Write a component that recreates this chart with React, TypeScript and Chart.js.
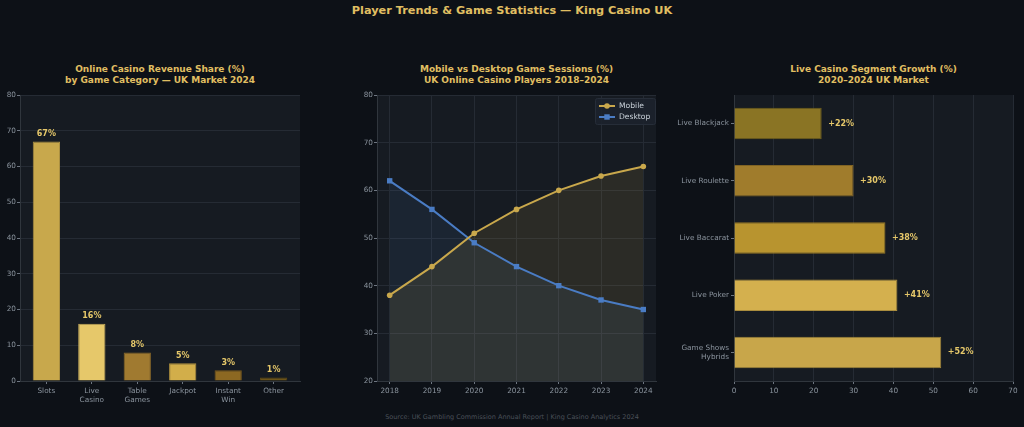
import React, { useEffect, useRef } from 'react';
import { Chart, registerables } from 'chart.js';
Chart.register(...registerables);

// ---------- data ----------
const shareCategories = [['Slots'], ['Live', 'Casino'], ['Table', 'Games'], ['Jackpot'], ['Instant', 'Win'], ['Other']];
const shareValues = [67, 16, 8, 5, 3, 1];
const shareColors = ['#c8a84c', '#e6c86a', '#a07a30', '#d2ae4a', '#8c6822', '#6c5418'];

const years = [2018, 2019, 2020, 2021, 2022, 2023, 2024];
const mobileSessions = [38, 44, 51, 56, 60, 63, 65];
const desktopSessions = [62, 56, 49, 44, 40, 37, 35];

const segments = [['Live Blackjack'], ['Live Roulette'], ['Live Baccarat'], ['Live Poker'], ['Game Shows', 'Hybrids']];
const segmentGrowth = [22, 30, 38, 41, 52];
const segmentColors = ['#8a7424', '#a07c2c', '#b8942f', '#d4b04e', '#c8a64a'];

// ---------- style ----------
const FIG_BG = '#0d1117';
const PLOT_BG = '#161b22';
const GRID = '#252b34';
const SPINE = '#30363d';
const TICK_TEXT = '#8b949e';
const GOLD_TEXT = '#e0bf62';
const LABEL_TEXT = '#e6c86a';
const FONT = "'DejaVu Sans', sans-serif";
const MOBILE = '#c9a84c';
const DESKTOP = '#4a7cc4';

Chart.defaults.font.family = FONT;

const plotBg = {
  id: 'plotBg',
  beforeDraw(chart: any) {
    const { ctx, chartArea: a } = chart;
    ctx.save();
    ctx.fillStyle = PLOT_BG;
    ctx.fillRect(a.left, a.top, a.right - a.left, a.bottom - a.top);
    ctx.restore();
  },
};

const tickFont = { family: FONT, size: 7.3 };

function darker(hex: string, f = 0.8) {
  const n = parseInt(hex.slice(1), 16);
  const r = Math.round(((n >> 16) & 255) * f);
  const g = Math.round(((n >> 8) & 255) * f);
  const b = Math.round((n & 255) * f);
  return `rgb(${r},${g},${b})`;
}

function noPad(s: any) {
  s.paddingTop = 0; s.paddingBottom = 0; s.paddingLeft = 0; s.paddingRight = 0;
}

function useChart(make: (c: HTMLCanvasElement) => Chart) {
  const ref = useRef<HTMLCanvasElement>(null);
  useEffect(() => {
    const ch = make(ref.current!);
    return () => ch.destroy();
  }, []);
  return ref;
}

function ShareChart() {
  const ref = useChart((canvas) =>
    new Chart(canvas, {
      type: 'bar',
      data: {
        datasets: [{
          data: shareValues.map((v, i) => ({ x: i, y: v })),
          backgroundColor: shareColors,
          borderColor: shareColors.map((c) => darker(c, 0.85)),
          borderWidth: 1,
          barPercentage: 0.6,
          categoryPercentage: 1,
        }],
      },
      options: {
        responsive: false,
        animation: false,
        layout: { padding: { left: 0, right: 20, top: 5, bottom: 0 } },
        plugins: { legend: { display: false }, tooltip: { enabled: false } },
        scales: {
          x: {
            type: 'linear',
            offset: false,
            min: -0.58, max: 5.58,
            afterBuildTicks: (s: any) => { s.ticks = shareCategories.map((_, i) => ({ value: i })); },
            grid: { display: true, offset: false, drawOnChartArea: false, drawTicks: true, tickLength: 3, tickColor: '#6e7681' },
            border: { color: SPINE },
            ticks: { color: TICK_TEXT, font: tickFont, padding: 2.5, maxRotation: 0, autoSkip: false,
              callback: (v: any) => shareCategories[Math.round(v)] },
            afterFit: (s: any) => { s.height = 29; noPad(s); },
          },
          y: {
            min: 0, max: 80,
            ticks: { stepSize: 10, color: TICK_TEXT, font: tickFont, padding: 1 },
            grid: { color: GRID, tickLength: 3, tickColor: '#6e7681' },
            border: { color: SPINE },
            afterFit: (s: any) => { s.width = 20; noPad(s); },
          },
        },
      },
      plugins: [plotBg, {
        id: 'vals',
        afterDatasetsDraw(chart: any) {
          const { ctx } = chart;
          const meta = chart.getDatasetMeta(0);
          ctx.save();
          ctx.font = `bold 8px ${FONT}`;
          ctx.fillStyle = LABEL_TEXT;
          ctx.textAlign = 'center';
          ctx.textBaseline = 'bottom';
          meta.data.forEach((el: any, i: number) => {
            ctx.fillText(`${shareValues[i]}%`, el.x, el.y - 3.5);
          });
          ctx.restore();
        },
      }],
    } as any)
  );
  return <canvas ref={ref} width={320} height={320} style={{ position: 'absolute', left: 0, top: 90, width: 320, height: 320 }} />;
}

function SessionsChart() {
  const ref = useChart((canvas) =>
    new Chart(canvas, {
      type: 'line',
      data: {
        datasets: [
          {
            label: 'Mobile',
            data: years.map((y, i) => ({ x: y, y: mobileSessions[i] })),
            borderColor: MOBILE,
            backgroundColor: 'rgba(201,168,76,0.12)',
            fill: 'start',
            borderWidth: 2,
            tension: 0,
            pointStyle: 'circle',
            pointRadius: 2.8,
            pointBackgroundColor: MOBILE,
            pointBorderColor: MOBILE,
            pointBorderWidth: 0,
          },
          {
            label: 'Desktop',
            data: years.map((y, i) => ({ x: y, y: desktopSessions[i] })),
            borderColor: DESKTOP,
            backgroundColor: 'rgba(74,124,196,0.10)',
            fill: 'start',
            borderWidth: 2,
            tension: 0,
            pointStyle: 'rect',
            pointRadius: 3.8,
            pointBackgroundColor: DESKTOP,
            pointBorderColor: DESKTOP,
            pointBorderWidth: 0,
          },
        ],
      },
      options: {
        responsive: false,
        animation: false,
        layout: { padding: { left: 0, right: 14, top: 5, bottom: 0 } },
        plugins: {
          legend: { display: false }, tooltip: { enabled: false },
          filler: { drawTime: 'beforeDatasetsDraw' },
        },
        scales: {
          x: {
            type: 'linear',
            min: 2017.7, max: 2024.3,
            afterBuildTicks: (s: any) => { s.ticks = years.map((v) => ({ value: v })); },
            ticks: { color: TICK_TEXT, font: tickFont, padding: 2.5, callback: (v: any) => String(v) },
            grid: { color: GRID, tickLength: 3, tickColor: '#6e7681' },
            border: { color: SPINE },
            afterFit: (s: any) => { s.height = 29; noPad(s); },
          },
          y: {
            min: 20, max: 80,
            ticks: { stepSize: 10, color: TICK_TEXT, font: tickFont, padding: 1 },
            grid: { color: GRID, tickLength: 3, tickColor: '#6e7681' },
            border: { color: SPINE },
            afterFit: (s: any) => { s.width = 37; noPad(s); },
          },
        },
      },
      plugins: [plotBg, {
        id: 'legendBox',
        afterDraw(chart: any) {
          const { ctx, chartArea: a } = chart;
          const w = 60, h = 26;
          const x0 = a.right - w - 1, y0 = a.top + 3;
          ctx.save();
          ctx.fillStyle = 'rgba(28,34,44,0.9)';
          ctx.strokeStyle = '#262d38';
          ctx.lineWidth = 1;
          ctx.beginPath();
          ctx.roundRect(x0 + 0.5, y0 + 0.5, w, h, 2);
          ctx.fill();
          ctx.stroke();
          ctx.font = `7.6px ${FONT}`;
          ctx.textBaseline = 'middle';
          chart.data.datasets.forEach((ds: any, i: number) => {
            const cy = y0 + 8 + i * 11;
            ctx.strokeStyle = ds.borderColor;
            ctx.fillStyle = ds.borderColor;
            ctx.lineWidth = 2;
            ctx.beginPath();
            ctx.moveTo(x0 + 4, cy);
            ctx.lineTo(x0 + 20, cy);
            ctx.stroke();
            if (ds.pointStyle === 'circle') {
              ctx.beginPath();
              ctx.arc(x0 + 12, cy, 2.8, 0, Math.PI * 2);
              ctx.fill();
            } else {
              ctx.fillRect(x0 + 12 - 2.7, cy - 2.7, 5.4, 5.4);
            }
            ctx.fillStyle = '#c9d1d9';
            ctx.fillText(ds.label, x0 + 24, cy);
          });
          ctx.restore();
        },
      }],
    } as any)
  );
  return <canvas ref={ref} width={330} height={320} style={{ position: 'absolute', left: 340, top: 90, width: 330, height: 320 }} />;
}

function GrowthChart() {
  const ref = useChart((canvas) =>
    new Chart(canvas, {
      type: 'bar',
      data: {
        labels: segments,
        datasets: [{
          data: segmentGrowth,
          backgroundColor: segmentColors,
          borderColor: segmentColors.map((c) => darker(c, 0.8)),
          borderWidth: 1,
          barPercentage: 0.55,
          categoryPercentage: 1,
        }],
      },
      options: {
        indexAxis: 'y',
        responsive: false,
        animation: false,
        layout: { padding: { left: 0, right: 11, top: 5, bottom: 0 } },
        plugins: { legend: { display: false }, tooltip: { enabled: false } },
        scales: {
          x: {
            min: 0, max: 70,
            ticks: { stepSize: 10, color: TICK_TEXT, font: tickFont, padding: 2.5 },
            grid: { color: GRID, tickLength: 3, tickColor: '#6e7681' },
            border: { color: SPINE },
            afterFit: (s: any) => { s.height = 29; noPad(s); },
          },
          y: {
            offset: true,
            grid: { display: true, drawOnChartArea: false, tickLength: 3, tickColor: '#6e7681', offset: false },
            border: { color: SPINE },
            ticks: { color: TICK_TEXT, font: tickFont, padding: 2, autoSkip: false },
            afterFit: (s: any) => { s.width = 64; noPad(s); },
          },
        },
      },
      plugins: [plotBg, {
        id: 'vals',
        afterDatasetsDraw(chart: any) {
          const { ctx } = chart;
          const meta = chart.getDatasetMeta(0);
          ctx.save();
          ctx.font = `bold 8px ${FONT}`;
          ctx.fillStyle = LABEL_TEXT;
          ctx.textAlign = 'left';
          ctx.textBaseline = 'middle';
          meta.data.forEach((el: any, i: number) => {
            ctx.fillText(`+${segmentGrowth[i]}%`, el.x + 6.5, el.y);
          });
          ctx.restore();
        },
      }],
    } as any)
  );
  return <canvas ref={ref} width={354} height={320} style={{ position: 'absolute', left: 670, top: 90, width: 354, height: 320 }} />;
}

const panelTitle = (left: number, lines: string[]) => (
  <div style={{
    position: 'absolute', left: left - 170, width: 340, top: 64, textAlign: 'center',
    fontFamily: FONT, fontWeight: 'bold', fontSize: 9, lineHeight: '10.7px', color: GOLD_TEXT, whiteSpace: 'nowrap',
  }}>
    {lines.map((l, i) => <div key={i}>{l}</div>)}
  </div>
);

export default function App() {
  return (
    <div style={{ position: 'fixed', left: 0, top: 0, width: 1024, height: 427, background: FIG_BG, overflow: 'hidden' }}>
      <div style={{
        position: 'absolute', left: 0, width: 1024, top: 3.5, textAlign: 'center',
        fontFamily: FONT, fontWeight: 'bold', fontSize: 11.3, lineHeight: '14px', color: GOLD_TEXT,
      }}>Player Trends &amp; Game Statistics — King Casino UK</div>
      {panelTitle(160, ['Online Casino Revenue Share (%)', 'by Game Category — UK Market 2024'])}
      {panelTitle(516.5, ['Mobile vs Desktop Game Sessions (%)', 'UK Online Casino Players 2018–2024'])}
      {panelTitle(873.5, ['Live Casino Segment Growth (%)', '2020–2024 UK Market'])}
      <ShareChart />
      <SessionsChart />
      <GrowthChart />
      <div style={{
        position: 'absolute', left: 0, width: 1024, top: 413.3, textAlign: 'center',
        fontFamily: FONT, fontSize: 6.5, lineHeight: '8px', color: '#4a5058',
      }}>Source: UK Gambling Commission Annual Report | King Casino Analytics 2024</div>
    </div>
  );
}
